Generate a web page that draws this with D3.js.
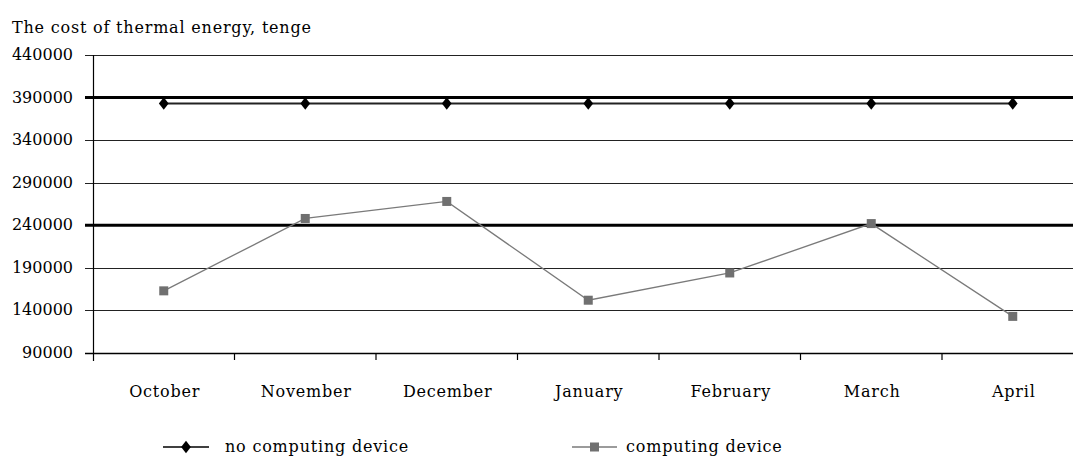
<!DOCTYPE html>
<html>
<head>
<meta charset="utf-8">
<script src="https://cdn.jsdelivr.net/npm/d3@7"></script>
<style>
  body { margin: 0; background: #fff; }
</style>
</head>
<body>
<div id="chart"></div>
<script>
"use strict";

//
//   DATA
//

var months = ["October", "November", "December", "January", "February", "March", "April"];
var noDevice = [383000, 383000, 383000, 383000, 383000, 383000, 383000];
var withDevice = [163000, 248000, 268000, 152000, 184000, 242000, 133000];
var yTicks = [90000, 140000, 190000, 240000, 290000, 340000, 390000, 440000];
var refLevels = [390000, 240000];
var seriesNames = ["no computing device", "computing device"];

//
//   LAYOUT
//

var W = 1073, H = 458;
var plotLeft = 93, plotTop = 55, plotBottom = 353;
var step = 141.5;
var FONT = "'DejaVu Serif', 'Liberation Serif', serif";
var SPACING = "0.8px";

var svg = d3.select("#chart").append("svg")
    .attr("width", W)
    .attr("height", H)
    .attr("font-family", FONT);

var x = d3.scaleBand().domain(months).range([plotLeft, plotLeft + step * months.length]);
var y = d3.scaleLinear().domain([90000, 440000]).range([plotBottom, plotTop]);

var line = d3.line()
    .x(function (d, i) { return x(months[i]) + x.bandwidth() / 2; })
    .y(function (d) { return y(d); });

function label(sel) {
    sel.attr("font-family", FONT)
        .style("font-size", "16px")
        .style("letter-spacing", SPACING)
        .style("fill", "#000");
}

// Title
svg.append("text")
    .attr("x", 12)
    .attr("y", 33)
    .call(label)
    .text("The cost of thermal energy, tenge");

// Gridlines
svg.append("g").selectAll("line").data(yTicks).enter().append("line")
    .attr("x1", plotLeft - 8)
    .attr("x2", W)
    .attr("y1", function (d) { return Math.round(y(d)) + 0.5; })
    .attr("y2", function (d) { return Math.round(y(d)) + 0.5; })
    .style("stroke", "#222")
    .style("stroke-width", 1.2);

// Thick reference lines
svg.append("g").selectAll("line").data(refLevels).enter().append("line")
    .attr("x1", plotLeft - 8)
    .attr("x2", W)
    .attr("y1", function (d) { return y(d); })
    .attr("y2", function (d) { return y(d); })
    .style("stroke", "#000")
    .style("stroke-width", 3);

// Y tick labels
svg.append("g").selectAll("text").data(yTicks).enter().append("text")
    .attr("x", 73)
    .attr("y", function (d) { return y(d) + 5; })
    .attr("text-anchor", "end")
    .call(label)
    .style("letter-spacing", "0px")
    .text(function (d) { return d; });

// Y axis line
svg.append("line")
    .attr("x1", plotLeft + 0.5).attr("x2", plotLeft + 0.5)
    .attr("y1", plotTop).attr("y2", plotBottom + 8)
    .style("stroke", "#000").style("stroke-width", 1.2);

// X axis line and boundary ticks
svg.append("line")
    .attr("x1", plotLeft - 8).attr("x2", W)
    .attr("y1", Math.round(plotBottom) + 0.5).attr("y2", Math.round(plotBottom) + 0.5)
    .style("stroke", "#000").style("stroke-width", 1.5);

svg.append("g").selectAll("line").data(months.slice(1)).enter().append("line")
    .attr("x1", function (d) { return x(d); })
    .attr("x2", function (d) { return x(d); })
    .attr("y1", plotBottom)
    .attr("y2", plotBottom + 7)
    .style("stroke", "#000").style("stroke-width", 1.2);

// Month labels
svg.append("g").selectAll("text").data(months).enter().append("text")
    .attr("x", function (d) { return x(d) + x.bandwidth() / 2 + 1; })
    .attr("y", 397)
    .attr("text-anchor", "middle")
    .call(label)
    .text(function (d) { return d; });

// Series: computing device (gray squares)
svg.append("path")
    .datum(withDevice)
    .attr("d", line)
    .style("fill", "none")
    .style("stroke", "#7a7a7a")
    .style("stroke-width", 1.3);

svg.append("g").selectAll("rect").data(withDevice).enter().append("rect")
    .attr("x", function (d, i) { return x(months[i]) + x.bandwidth() / 2 - 4.5; })
    .attr("y", function (d) { return y(d) - 4.5; })
    .attr("width", 9)
    .attr("height", 9)
    .style("fill", "#707070");

// Series: no computing device (black diamonds)
svg.append("path")
    .datum(noDevice)
    .attr("d", line)
    .style("fill", "none")
    .style("stroke", "#222")
    .style("stroke-width", 2);

var diamond = d3.symbol().type(d3.symbolDiamond).size(45);
function markAt(px, py) {
    return "translate(" + px + "," + py + ") scale(1.35,1)";
}
svg.append("g").selectAll("path").data(noDevice).enter().append("path")
    .attr("d", diamond)
    .attr("transform", function (d, i) {
        return markAt(x(months[i]) + x.bandwidth() / 2, y(d));
    })
    .style("fill", "#000");

// Legend
var legend = [
    { name: seriesNames[0], x1: 163, x2: 209, text: 225, color: "#000", mark: "diamond" },
    { name: seriesNames[1], x1: 572, x2: 617, text: 626, color: "#7a7a7a", mark: "square" }
];
var ly = 447;
legend.forEach(function (l) {
    svg.append("line")
        .attr("x1", l.x1).attr("x2", l.x2)
        .attr("y1", ly).attr("y2", ly)
        .style("stroke", l.color).style("stroke-width", l.mark == "diamond" ? 1.6 : 1.3);
    var mx = (l.x1 + l.x2) / 2;
    if (l.mark == "diamond") {
        svg.append("path")
            .attr("d", diamond)
            .attr("transform", markAt(mx, ly))
            .style("fill", "#000");
    } else {
        svg.append("rect")
            .attr("x", mx - 4.5).attr("y", ly - 4.5)
            .attr("width", 9).attr("height", 9)
            .style("fill", "#707070");
    }
    svg.append("text")
        .attr("x", l.text)
        .attr("y", ly + 5)
        .call(label)
        .text(l.name);
});
</script>
</body>
</html>
